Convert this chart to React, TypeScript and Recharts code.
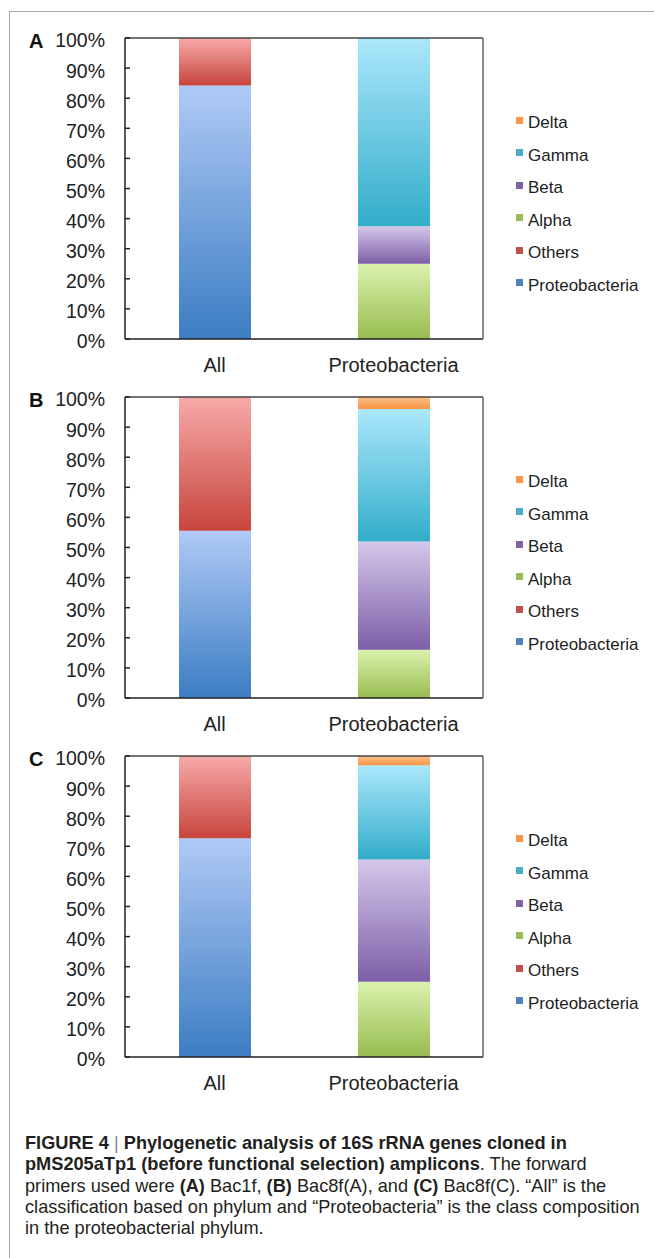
import React from "react"
import { BarChart, Bar, XAxis, YAxis } from "recharts"

// categories on the x axis
const categories = ["All", "Proteobacteria"]
// stacked from bottom to top
const phylumKeys = ["Proteobacteria", "Others"]
const classKeys = ["Alpha", "Beta", "Gamma", "Delta"]
const legendOrder = ["Delta", "Gamma", "Beta", "Alpha", "Others", "Proteobacteria"]
const yTicks = [0, 10, 20, 30, 40, 50, 60, 70, 80, 90, 100]

// percentages
const phylumA = [84.2, 15.8]
const classA = [25, 12.5, 62.5, 0]
const phylumB = [55.6, 44.4]
const classB = [16, 36, 44, 4]
const phylumC = [72.7, 27.3]
const classC = [25, 40.6, 31.3, 3.1]

const font = "'Liberation Sans', Arial, sans-serif"

// gradient top / bottom per series, solid colour for legend swatch
const colors = {
  Proteobacteria: { top: "#b0caf6", bottom: "#3b7dc3", solid: "#4f81bd" },
  Others: { top: "#f7aaa9", bottom: "#c7453d", solid: "#c0504d" },
  Alpha: { top: "#dbf2ad", bottom: "#97bc4f", solid: "#9bbb59" },
  Beta: { top: "#d5c7ea", bottom: "#7c5fa7", solid: "#8064a2" },
  Gamma: { top: "#abe7fb", bottom: "#32adca", solid: "#4bacc6" },
  Delta: { top: "#fbc08c", bottom: "#f7953f", solid: "#f79646" },
}

const buildRows = (phylum, cls) => [
  { name: categories[0], Proteobacteria: phylum[0], Others: phylum[1] },
  { name: categories[1], Alpha: cls[0], Beta: cls[1], Gamma: cls[2], Delta: cls[3] },
]

const panels = [
  { id: "A", rows: buildRows(phylumA, classA) },
  { id: "B", rows: buildRows(phylumB, classB) },
  { id: "C", rows: buildRows(phylumC, classC) },
]

const YTick = (props) => {
  const { x, y, payload } = props
  return (
    <g>
      <line x1={x + 20} x2={x + 25} y1={y} y2={y} stroke="#222" strokeWidth={1.5} />
      <text x={x} y={y + 2.5} dy="0.355em" textAnchor="end" fontSize={19.5} fill="#222" fontFamily={font}>
        {`${payload.value}%`}
      </text>
    </g>
  )
}

const LegendBox = () => (
  <div style={{ position: "absolute", left: 516, top: 106.75, fontFamily: font, fontSize: 17, color: "#222" }}>
    {legendOrder.map((k) => (
      <div key={k} style={{ height: 32.5, display: "flex", alignItems: "center", whiteSpace: "nowrap" }}>
        <span
          style={{
            display: "inline-block",
            width: 7,
            height: 7,
            background: colors[k].solid,
            marginRight: 5,
            position: "relative",
            top: -3,
          }}
        />
        {k}
      </div>
    ))}
  </div>
)

const Panel = ({ id, rows }) => (
  <BarChart width={654} height={380} data={rows} margin={{ top: 37, right: 170, bottom: 0, left: 0 }}>
    <defs>
      {legendOrder.map((k) => (
        <linearGradient key={k} id={`grad-${id}-${k}`} x1="0" y1="0" x2="0" y2="1">
          <stop offset="0%" stopColor={colors[k].top} />
          <stop offset="100%" stopColor={colors[k].bottom} />
        </linearGradient>
      ))}
    </defs>
    <XAxis
      dataKey="name"
      height={41}
      tickLine={false}
      tickSize={0}
      tickMargin={19}
      axisLine={{ stroke: "#222", strokeWidth: 1.5 }}
      tick={{ fontSize: 20, fill: "#222", fontFamily: font }}
    />
    <XAxis xAxisId="top" dataKey="name" orientation="top" height={1} tick={false} tickLine={false} axisLine={{ stroke: "#444", strokeWidth: 1.5 }} />
    <YAxis
      type="number"
      domain={[0, 100]}
      ticks={yTicks}
      width={125}
      tickLine={false}
      tickSize={0}
      tickMargin={20}
      interval={0}
      axisLine={{ stroke: "#222", strokeWidth: 1.5 }}
      tick={YTick}
    />
    <YAxis yAxisId="right" orientation="right" width={1} tick={false} tickLine={false} axisLine={{ stroke: "#666", strokeWidth: 1.5 }} />
    {[...phylumKeys, ...classKeys].map((k) => (
      <Bar key={k} dataKey={k} stackId="s" barSize={72} fill={`url(#grad-${id}-${k})`} isAnimationActive={false} />
    ))}
  </BarChart>
)

export default function App() {
  return (
    <div style={{ position: "absolute", left: 0, top: 0, width: 654, height: 1258, background: "#fff", overflow: "hidden", fontFamily: font }}>
      <div style={{ position: "absolute", left: 9, top: 11, width: 700, height: 1300, borderLeft: "1.5px solid #aaa", borderTop: "1.5px solid #aaa" }} />
      {panels.map((p, i) => (
        <div key={p.id} style={{ position: "absolute", left: 0, top: i * 359, width: 654, height: 380 }}>
          <Panel id={p.id} rows={p.rows} />
          <LegendBox />
          <div style={{ position: "absolute", left: 29, top: 30, fontSize: 20, fontWeight: "bold", color: "#111", lineHeight: "22px" }}>{p.id}</div>
        </div>
      ))}
      <div
        style={{
          position: "absolute",
          left: 25,
          top: 1133,
          fontSize: 18.2,
          lineHeight: "21.3px",
          color: "#231f20",
          whiteSpace: "nowrap",
        }}
      >
        <b>FIGURE 4</b> <span style={{ color: "#888", fontWeight: 300 }}>|</span> <b>Phylogenetic analysis of 16S rRNA genes cloned in</b>
        <br />
        <b>pMS205aTp1 (before functional selection) amplicons</b>. The forward
        <br />
        primers used were <b>(A)</b> Bac1f, <b>(B)</b> Bac8f(A), and <b>(C)</b> Bac8f(C). “All” is the
        <br />
        classification based on phylum and “Proteobacteria” is the class composition
        <br />
        in the proteobacterial phylum.
      </div>
    </div>
  )
}
